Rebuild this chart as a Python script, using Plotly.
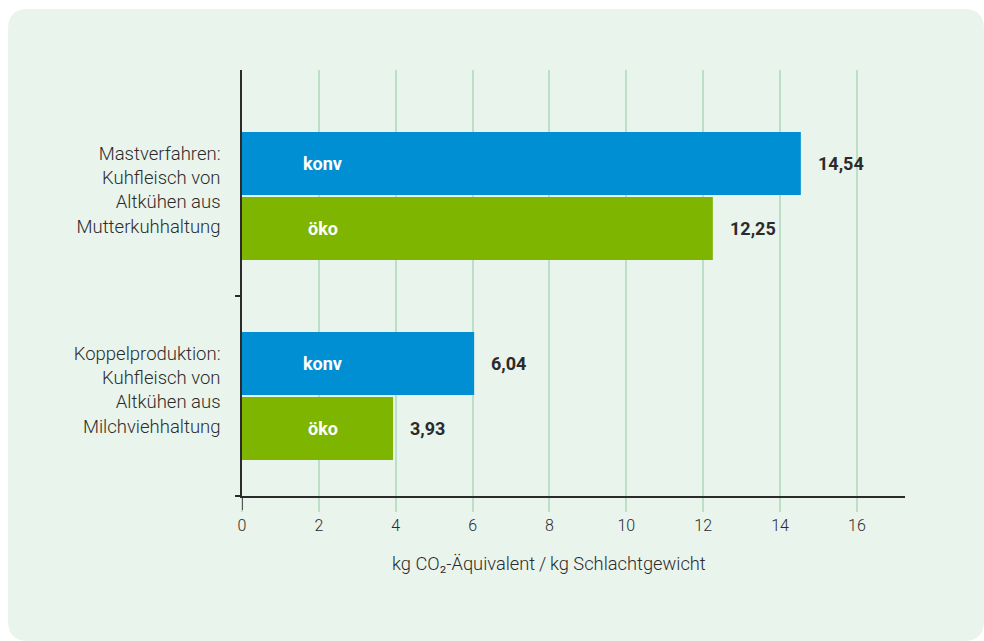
import plotly.graph_objects as go

categories = [
    "Mastverfahren:<br>Kuhfleisch von<br>Altkühen aus<br>Mutterkuhhaltung",
    "Koppelproduktion:<br>Kuhfleisch von<br>Altkühen aus<br>Milchviehhaltung",
]
series_names = ["konv", "öko"]
konv_values = [14.54, 6.04]
oeko_values = [12.25, 3.93]
x_ticks = [0, 2, 4, 6, 8, 10, 12, 14, 16]
x_title = "kg CO₂-Äquivalent\u2009/\u2009kg Schlachtgewicht"

BLUE = "#008fd2"
GREEN = "#7db500"
PANEL = "#e9f4ec"
GRID = "#bcdfc8"
DARK = "#2b2b2b"
FONT = "Roboto"

W, H = 984, 641
L, R, T, B = 242, 79, 70, 145
PW, PH = W - L - R, H - T - B


def px(xp):
    return (xp - L) / PW


def py(yp):
    return (H - B - yp) / PH


cat_pos = list(range(len(categories)))
BARGAP = 0.35
half = (1 - BARGAP) / 4

fig = go.Figure()
for name, vals, col in [(series_names[0], konv_values, BLUE), (series_names[1], oeko_values, GREEN)]:
    fig.add_trace(go.Bar(
        y=cat_pos, x=vals, orientation="h", name=name,
        marker=dict(color=col, line=dict(width=0)),
        hoverinfo="skip",
    ))

annotations = []
for series_idx, (name, vals) in enumerate([(series_names[0], konv_values), (series_names[1], oeko_values)]):
    off = -half if series_idx == 0 else half
    for ci, v in enumerate(vals):
        yv = cat_pos[ci] + off
        annotations.append(dict(
            x=2.1, y=yv, xref="x", yref="y", text="<b>%s</b>" % name, showarrow=False,
            font=dict(family=FONT, size=18, color="white"), xanchor="center", yanchor="middle"))
        annotations.append(dict(
            x=v, y=yv, xref="x", yref="y", text="<b>%s</b>" % f"{v:.2f}".replace(".", ","),
            showarrow=False, font=dict(family=FONT, size=18, color=DARK),
            xanchor="left", yanchor="middle", xshift=15))

annotations.append(dict(
    x=(x_ticks[0] + x_ticks[-1]) / 2, y=py(563), xref="x", yref="paper", text=x_title,
    showarrow=False, font=dict(family=FONT, size=18.3, color=DARK, weight=300),
    xanchor="center", yanchor="middle"))

# rounded background panel
x0, x1, y0, y1 = px(8), px(984), py(9), py(641)
rx, ry = 20 / PW, 20 / PH
path = (f"M {x0+rx},{y0} L {x1-rx},{y0} Q {x1},{y0} {x1},{y0-ry} "
        f"L {x1},{y1+ry} Q {x1},{y1} {x1-rx},{y1} "
        f"L {x0+rx},{y1} Q {x0},{y1} {x0},{y1+ry} "
        f"L {x0},{y0-ry} Q {x0},{y0} {x0+rx},{y0} Z")
shapes = [
    dict(type="path", path=path, xref="paper", yref="paper", fillcolor=PANEL,
         line=dict(width=0), layer="below"),
    dict(type="line", xref="x", yref="paper", x0=0, x1=0, y0=0, y1=-14 / PH,
         line=dict(color=DARK, width=1.5)),
]

fig.update_layout(
    width=W, height=H,
    margin=dict(l=L, r=R, t=T, b=B),
    paper_bgcolor="white", plot_bgcolor="rgba(0,0,0,0)",
    barmode="group", bargap=BARGAP, bargroupgap=0.03,
    showlegend=False,
    font=dict(family=FONT, color=DARK),
    annotations=annotations, shapes=shapes,
    xaxis=dict(
        range=[0, 17.25], tickvals=x_ticks, ticktext=[str(t) for t in x_ticks],
        showgrid=True, gridcolor=GRID, gridwidth=1.5,
        showline=True, linecolor=DARK, linewidth=1.5,
        ticks="outside", ticklen=14, tickcolor=GRID, tickwidth=1.5,
        tickfont=dict(family=FONT, size=16, color=DARK, weight=300), zeroline=False,
    ),
    yaxis=dict(
        range=[1.5, -0.63], tickvals=cat_pos, ticktext=categories,
        showgrid=False, zeroline=False,
        showline=True, linecolor=DARK, linewidth=1.5,
        ticks="", ticklabelstandoff=16, ticklabelshift=6,
        minor=dict(tickmode="array", tickvals=[0.5, 1.5], ticks="outside", ticklen=5,
                   tickcolor=DARK, tickwidth=1.5, showgrid=False),
        tickfont=dict(family=FONT, size=18.5, color=DARK, weight=300),
    ),
)

fig.write_html(
    "out.html",
    config={"displayModeBar": False},
    post_script="document.body.style.margin='0';document.body.style.overflow='hidden';",
)
